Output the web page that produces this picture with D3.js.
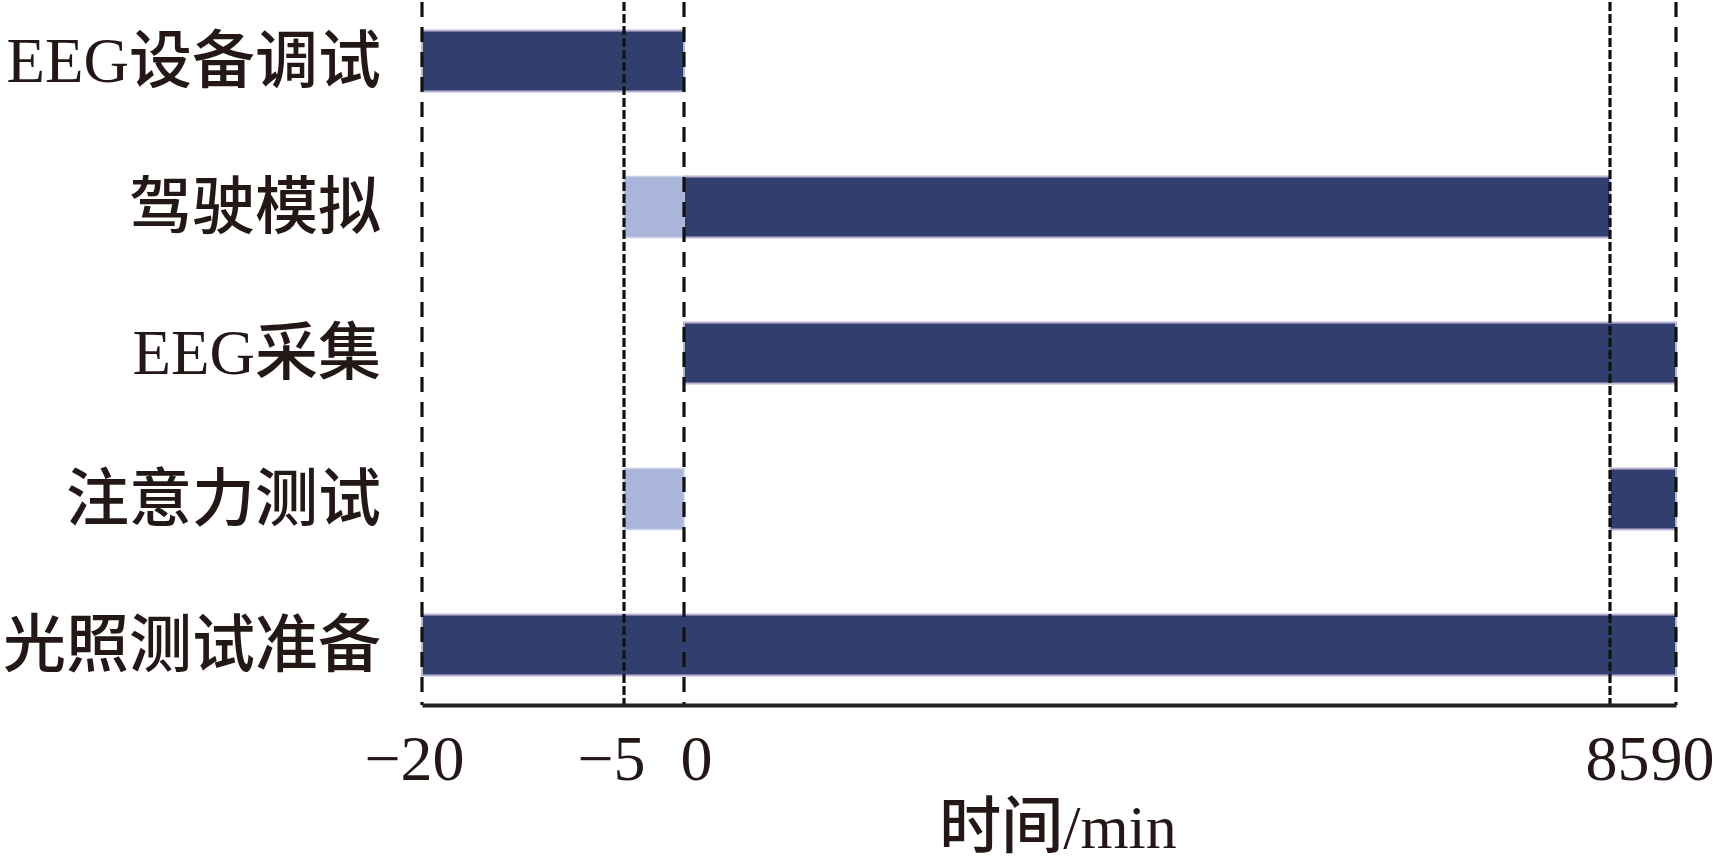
<!DOCTYPE html>
<html>
<head>
<meta charset="utf-8">
<script src="https://cdn.jsdelivr.net/npm/d3@7"></script>
<style>
  html, body { margin: 0; padding: 0; background: #fff; }
  svg { display: block; }
</style>
</head>
<body>
<svg id="chart" width="1715" height="862"></svg>
<script>
// ---- data ----
const categories = ["EEG设备调试", "驾驶模拟", "EEG采集", "注意力测试", "光照测试准备"];
const tickValues = [-20, -5, 0, 85, 90];
const markerTimes = [-20, -5, 0, 85, 90];
// preparation (light) segments: [category, start, end]
const prepSegments = [
  ["驾驶模拟", -5, 0],
  ["注意力测试", -5, 0]
];
// main (dark) segments: [category, start, end]
const mainSegments = [
  ["EEG设备调试", -20, 0],
  ["驾驶模拟", 0, 85],
  ["EEG采集", 0, 90],
  ["注意力测试", 85, 90],
  ["光照测试准备", -20, 90]
];
const axisTitle = "时间/min";

// ---- layout ----
const svg = d3.select("#chart");
const axisY = 705;
const barH = 61;
const textColor = "#231815";
const fontFamily = "'Liberation Serif', 'Times New Roman', 'Noto Sans CJK SC', serif";

// broken (piecewise) time axis as in the reference
const x = d3.scaleLinear()
  .domain(tickValues)
  .range([422, 624, 684, 1610, 1676]);

const y = d3.scalePoint()
  .domain(categories)
  .range([61, 645]);

// bars
const bars = svg.append("g");
bars.selectAll("rect.prep")
  .data(prepSegments)
  .join("rect")
  .attr("class", "prep")
  .attr("x", d => x(d[1]))
  .attr("width", d => x(d[2]) - x(d[1]))
  .attr("y", d => y(d[0]) - barH / 2)
  .attr("height", barH)
  .attr("fill", "#aab6d9")
  .attr("stroke", "#c9d0e8")
  .attr("stroke-width", 1.5);

bars.selectAll("rect.main")
  .data(mainSegments)
  .join("rect")
  .attr("class", "main")
  .attr("x", d => x(d[1]))
  .attr("width", d => x(d[2]) - x(d[1]))
  .attr("y", d => y(d[0]) - barH / 2)
  .attr("height", barH)
  .attr("fill", "#313f6e")
  .attr("stroke", "#b9b5d4")
  .attr("stroke-width", 2);

// dashed marker lines
const denseTimes = new Set([-5, 85]);
svg.append("g").selectAll("line")
  .data(markerTimes)
  .join("line")
  .attr("x1", d => x(d)).attr("x2", d => x(d))
  .attr("y1", 2).attr("y2", axisY)
  .attr("stroke", "#111")
  .attr("stroke-width", 3.2)
  .attr("stroke-dasharray", d => denseTimes.has(d) ? "9,3" : "15,10");

// x axis
const axis = d3.axisBottom(x)
  .tickValues(tickValues)
  .tickSize(0)
  .tickPadding(30);

const gx = svg.append("g")
  .attr("transform", `translate(0,${axisY})`)
  .call(axis);
gx.select(".domain").attr("stroke", "#222").attr("stroke-width", 4);
const labelShift = new Map([[-20, -8], [-5, -13], [0, 12], [85, 7], [90, 6]]);
gx.selectAll(".tick text")
  .attr("dx", d => labelShift.get(d) || 0)
  .attr("fill", textColor)
  .style("font-family", fontFamily)
  .style("font-size", "64px");

// category labels
svg.append("g").selectAll("text")
  .data(categories)
  .join("text")
  .attr("x", 381)
  .attr("y", d => y(d) + 21)
  .attr("text-anchor", "end")
  .attr("fill", textColor)
  .style("font-family", fontFamily)
  .style("font-weight", 500)
  .style("font-size", "63px")
  .text(d => d);

// axis title
svg.append("text")
  .attr("x", (x.range()[0] + x.range()[x.range().length - 1]) / 2 + 9)
  .attr("y", 848)
  .attr("text-anchor", "middle")
  .attr("fill", textColor)
  .style("font-family", fontFamily)
  .style("font-weight", 500)
  .style("font-size", "62px")
  .text(axisTitle);
</script>
</body>
</html>
